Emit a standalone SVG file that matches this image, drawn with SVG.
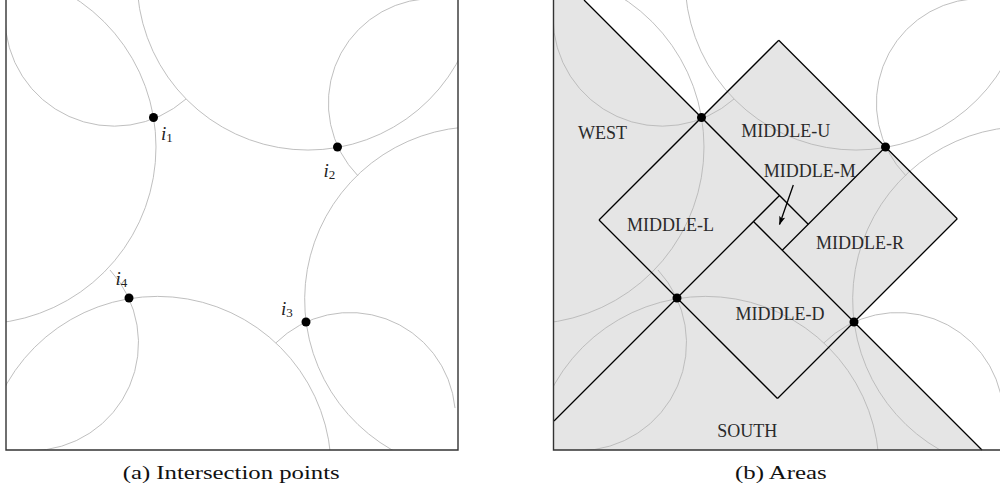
<svg xmlns="http://www.w3.org/2000/svg" xmlns:xlink="http://www.w3.org/1999/xlink" width="1000" height="490" viewBox="0 0 1000 490">
<style>
.arc{fill:none;stroke:#b8b8b8;stroke-width:0.9}
.edge{fill:none;stroke:#000;stroke-width:1.3}
.frame{fill:none;stroke:#333;stroke-width:1.4}
.dot{fill:#000}
.lbl{font-family:"Liberation Serif",serif;font-size:18px;fill:#2a2a2a;text-anchor:middle}
.mi{font-family:"Liberation Serif",serif;font-size:19px;font-style:italic;fill:#222}
.sub{font-size:13px;font-style:normal}
.cap{font-family:"Liberation Serif",serif;font-size:19px;fill:#111}
</style>
<defs>
<clipPath id="clipL" clipPathUnits="userSpaceOnUse"><rect x="6" y="-5" width="452" height="455"/></clipPath>
<clipPath id="clipR" clipPathUnits="userSpaceOnUse"><rect x="553.5" y="-5" width="453" height="455"/></clipPath>
<g id="arcs">
<path class="arc" d="M5,17 A109,109 0 0 0 186,99"/>
<path class="arc" d="M137,-21 A171,171 0 0 0 468.7,37.5"/>
<path class="arc" d="M67.5,-6.3 A177,177 0 0 1 -51.7,321.3"/>
<path class="arc" d="M110,270 A107.7,107.7 0 0 1 31,450.7"/>
<path class="arc" d="M-5.7,410.6 A173.7,173.7 0 0 1 331.2,470"/>
<path class="arc" d="M275.9,342.9 A105.5,105.5 0 0 1 455,408"/>
<path class="arc" d="M462.5,127.3 A173,173 0 0 0 404.5,456.4"/>
<path class="arc" d="M423.9,-1.1 A104.5,104.5 0 0 0 358,175.9"/>
</g>
<marker id="arr" viewBox="0 0 10 8" refX="9.5" refY="4" markerWidth="10" markerHeight="7" markerUnits="userSpaceOnUse" orient="auto">
<path d="M0,0.5 L10,4 L0,7.5 L2.2,4 z" fill="#000"/>
</marker>
</defs>

<g id="panel-a">
<g clip-path="url(#clipL)"><use xlink:href="#arcs" href="#arcs"/></g>
<path class="frame" d="M6,-3 V450 H458 V-3"/>
<g id="points-a">
<circle class="dot" cx="153.5" cy="117.5" r="4.5"/>
<circle class="dot" cx="337.5" cy="147" r="4.5"/>
<circle class="dot" cx="306" cy="322" r="4.5"/>
<circle class="dot" cx="129" cy="298" r="4.5"/>
</g>
<text class="mi" x="161" y="140">i<tspan class="sub" dy="2">1</tspan></text>
<text class="mi" x="323.5" y="176.5">i<tspan class="sub" dy="2">2</tspan></text>
<text class="mi" x="281" y="315">i<tspan class="sub" dy="2">3</tspan></text>
<text class="mi" x="115.5" y="284.5">i<tspan class="sub" dy="2">4</tspan></text>
<text class="cap" x="122.7" y="479" textLength="217" lengthAdjust="spacingAndGlyphs">(a) Intersection points</text>
</g>

<g id="panel-b">
<polygon id="area-fill" fill="#e5e5e5" points="553.5,0 584,0 701.5,117.5 778.75,40.25 885.5,147 957.25,218.75 854,322 982,450 553.5,450"/>
<g clip-path="url(#clipR)"><use xlink:href="#arcs" href="#arcs" transform="translate(548,0)"/></g>
<g id="connectors">
<path class="edge" d="M584,0 L808.25,224.25"/>
<path class="edge" d="M778.75,40.25 L599,220"/>
<path class="edge" d="M778.75,40.25 L957.25,218.75"/>
<path class="edge" d="M885.5,147 L782.25,250.25"/>
<path class="edge" d="M753.5,221.5 L982,450"/>
<path class="edge" d="M957.25,218.75 L777.5,398.5"/>
<path class="edge" d="M599,220 L777.5,398.5"/>
<path class="edge" d="M779.5,195.5 L554,421"/>
<path class="edge" stroke-width="1" d="M793.3,185 L779.5,224.5" marker-end="url(#arr)"/>
</g>
<path class="frame" d="M553.5,-3 V450 H1006"/>
<g id="points-b">
<circle class="dot" cx="701.5" cy="117.5" r="4.5"/>
<circle class="dot" cx="885.5" cy="147" r="4.5"/>
<circle class="dot" cx="854" cy="322" r="4.5"/>
<circle class="dot" cx="677" cy="298" r="4.5"/>
</g>
<g id="west"><text class="lbl" x="602.5" y="139">WEST</text></g>
<g id="middle-u"><text class="lbl" x="785.7" y="136.7">MIDDLE-U</text></g>
<g id="middle-m"><text class="lbl" x="809.8" y="176.7">MIDDLE-M</text></g>
<g id="middle-l"><text class="lbl" x="670.5" y="230.7">MIDDLE-L</text></g>
<g id="middle-r"><text class="lbl" x="860" y="249">MIDDLE-R</text></g>
<g id="middle-d"><text class="lbl" x="780" y="320">MIDDLE-D</text></g>
<g id="south"><text class="lbl" x="747.2" y="436.7">SOUTH</text></g>
<text class="cap" x="735" y="479" textLength="91.7" lengthAdjust="spacingAndGlyphs">(b) Areas</text>
</g>
</svg>
